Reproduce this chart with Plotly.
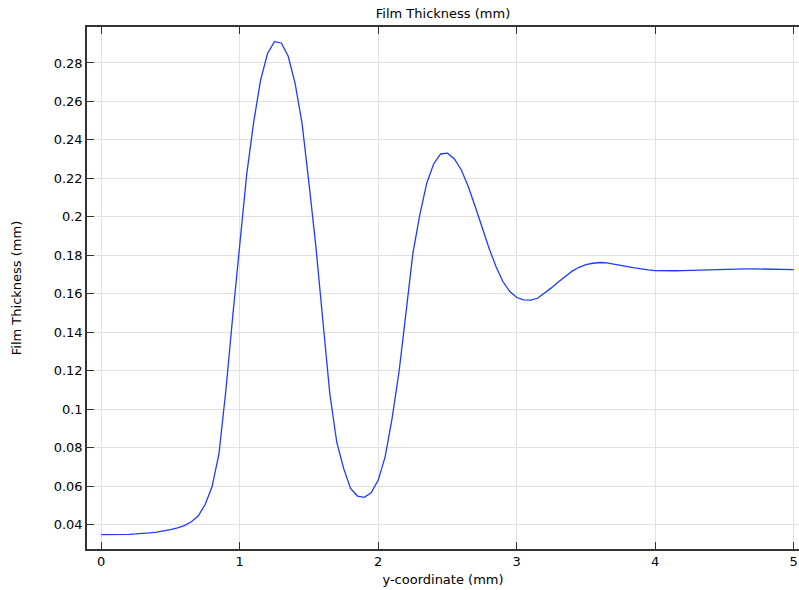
import plotly.graph_objects as go

# y-coordinate (mm)
y_coord = [
    0.00, 0.05, 0.10, 0.15, 0.20, 0.25, 0.30, 0.35, 0.40, 0.45,
    0.50, 0.55, 0.60, 0.65, 0.70, 0.75, 0.80, 0.85, 0.90, 0.95,
    1.00, 1.05, 1.10, 1.15, 1.20, 1.25, 1.30, 1.35, 1.40, 1.45,
    1.50, 1.55, 1.60, 1.65, 1.70, 1.75, 1.80, 1.85, 1.90, 1.95,
    2.00, 2.05, 2.10, 2.15, 2.20, 2.25, 2.30, 2.35, 2.40, 2.45,
    2.50, 2.55, 2.60, 2.65, 2.70, 2.75, 2.80, 2.85, 2.90, 2.95,
    3.00, 3.05, 3.10, 3.15, 3.20, 3.25, 3.30, 3.35, 3.40, 3.45,
    3.50, 3.55, 3.60, 3.65, 3.70, 3.75, 3.80, 3.85, 3.90, 3.95,
    4.00, 4.05, 4.10, 4.15, 4.20, 4.25, 4.30, 4.35, 4.40, 4.45,
    4.50, 4.55, 4.60, 4.65, 4.70, 4.75, 4.80, 4.85, 4.90, 4.95,
    5.00,
]

# Film thickness (mm)
film_thickness = [
    0.0348, 0.0348, 0.0348, 0.0349, 0.0350, 0.0352, 0.0354, 0.0358, 0.0362, 0.0367,
    0.0374, 0.0383, 0.0395, 0.0415, 0.0445, 0.0505, 0.0597, 0.0770, 0.1100, 0.1489,
    0.1860, 0.2220, 0.2490, 0.2710, 0.2848, 0.2911, 0.2904, 0.2835, 0.2693, 0.2485,
    0.2173, 0.1844, 0.1460, 0.1083, 0.0830, 0.0693, 0.0589, 0.0549, 0.0542, 0.0567,
    0.0632, 0.0754, 0.0953, 0.1195, 0.1500, 0.1810, 0.2010, 0.2175, 0.2275, 0.2327,
    0.2331, 0.2301, 0.2244, 0.2158, 0.2054, 0.1944, 0.1837, 0.1742, 0.1664, 0.1612,
    0.1581, 0.1569, 0.1567, 0.1577, 0.1603, 0.1631, 0.1662, 0.1690, 0.1718, 0.1738,
    0.1752, 0.1759, 0.1763, 0.1761, 0.1756, 0.1749, 0.1742, 0.1735, 0.1728, 0.1725,
    0.1721, 0.1720, 0.1719, 0.1720, 0.1721, 0.1722, 0.1723, 0.1725, 0.1726, 0.1728,
    0.1730, 0.1731, 0.1731, 0.1730, 0.1730, 0.1729, 0.1728, 0.1727, 0.1726, 0.1726,
    0.1726,
]

x_tick_vals = [0, 1, 2, 3, 4, 5]
x_tick_text = ["0", "1", "2", "3", "4", "5"]
y_tick_vals = [0.04, 0.06, 0.08, 0.10, 0.12, 0.14, 0.16, 0.18, 0.20,
               0.22, 0.24, 0.26, 0.28]
y_tick_text = ["0.04", "0.06", "0.08", "0.1", "0.12", "0.14", "0.16", "0.18",
               "0.2", "0.22", "0.24", "0.26", "0.28"]

FONT = "DejaVu Sans"
AXIS_COLOR = "#333333"
GRID_COLOR = "#e1e1e1"

fig = go.Figure()
fig.add_trace(go.Scatter(
    x=y_coord, y=film_thickness, mode="lines",
    line=dict(color="rgb(30,60,255)", width=1.3),
    showlegend=False, hoverinfo="x+y",
))

fig.update_layout(
    width=799, height=590,
    margin=dict(l=87, r=0, t=27, b=41),
    paper_bgcolor="white", plot_bgcolor="white",
    font=dict(family=FONT, size=13, color="#000000"),
    title=dict(text="Film Thickness (mm)", x=0.5, xref="paper",
               xanchor="center", y=1 - 13 / 590, yref="container",
               yanchor="middle", font=dict(family=FONT, size=13, color="#000000")),
)

fig.update_xaxes(
    range=[-0.103, 5.038], tickmode="array",
    tickvals=x_tick_vals, ticktext=x_tick_text,
    ticks="inside", ticklen=7, tickwidth=1.3, tickcolor=AXIS_COLOR,
    showline=True, linecolor=AXIS_COLOR, linewidth=1.5, mirror="ticks",
    showgrid=True, gridcolor=GRID_COLOR, gridwidth=1, zeroline=False,
    ticklabeloverflow="allow",
    title=dict(text="y-coordinate (mm)", standoff=7, font=dict(size=13)),
    tickfont=dict(size=13),
)
fig.update_yaxes(
    range=[0.02738, 0.2987], tickmode="array",
    tickvals=y_tick_vals, ticktext=y_tick_text,
    ticks="inside", ticklen=7, tickwidth=1.3, tickcolor=AXIS_COLOR,
    showline=True, linecolor=AXIS_COLOR, linewidth=1.5, mirror=False,
    showgrid=True, gridcolor=GRID_COLOR, gridwidth=1, zeroline=False,
    title=dict(text="Film Thickness (mm)", standoff=29, font=dict(size=13)),
    tickfont=dict(size=13),
)

# remove the page's default body margin so the figure fills the window exactly
fig.write_html(
    "out.html",
    config={"displayModeBar": False},
    post_script="document.body.style.margin='0';document.body.style.overflow='hidden';",
)
